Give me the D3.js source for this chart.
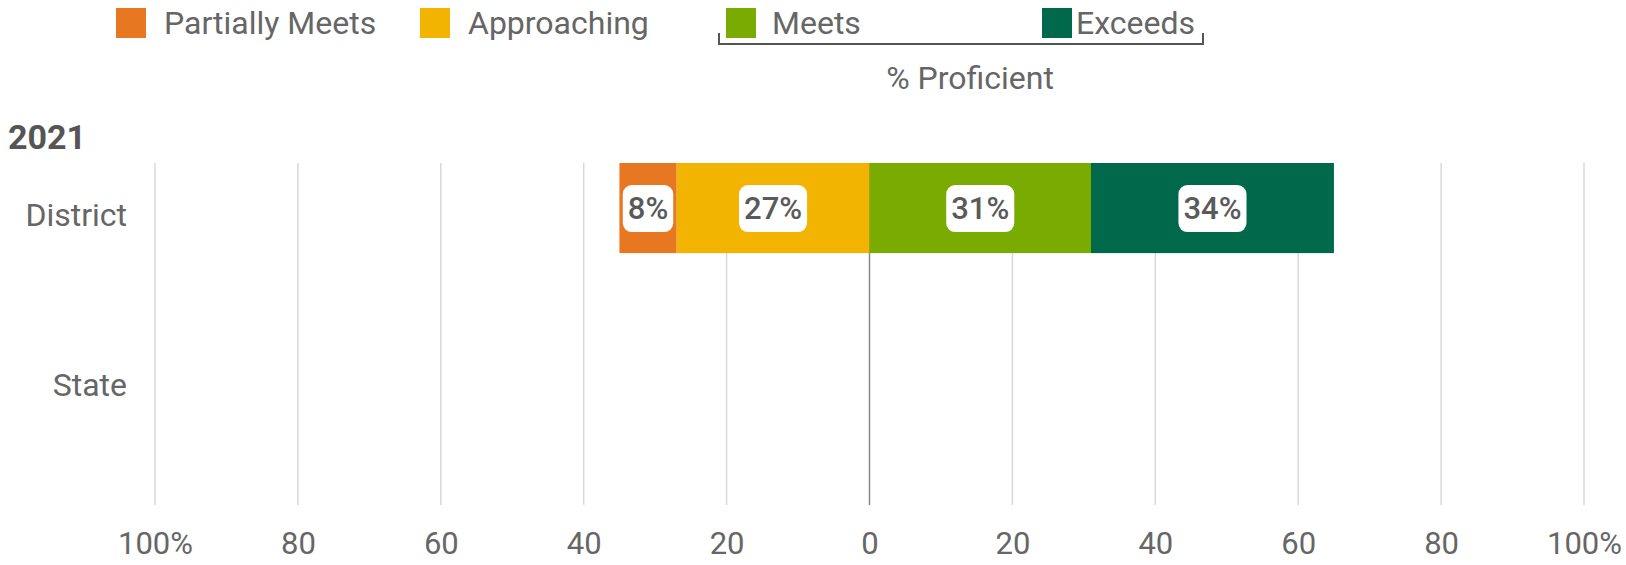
<!DOCTYPE html>
<meta charset="utf-8">
<style>
	body { margin: 0; background: #fff; }
	svg text { font-family: Roboto, "Noto Sans", sans-serif; fill: #666; }
	.grid line { stroke: #d9d9d9; stroke-width: 1.5; }
	.grid line.zero { stroke: #8a8a8a; }
	.lbl { font-weight: 500; fill: #5a5a5a; }
</style>
<script src="https://cdn.jsdelivr.net/npm/d3@7"></script>
<body>
<div id="chart"></div>
<script>
	// data
	let levels = ["Partially Meets", "Approaching", "Meets", "Exceeds"];
	let colors = ["#E87722", "#F2B400", "#7AAB00", "#00694B"];
	let groups = ["District", "State"];
	let districtValues = [8, 27, 31, 34];
	let stateValues = [];
	let tickValues = [-100, -80, -60, -40, -20, 0, 20, 40, 60, 80, 100];
	let year = "2021";

	let width = 1626, height = 565;

	let svg = d3.select("#chart").append("svg")
		.attr("width", width)
		.attr("height", height);

	let x = d3.scaleLinear().domain([-100, 100]).range([155, 1584]);
	let y = d3.scaleBand().domain(groups).range([163, 503]);
	let barH = y.bandwidth() * 0.53;

	// gridlines
	svg.append("g").attr("class", "grid")
		.selectAll("line")
		.data(tickValues)
		.join("line")
		.attr("class", d => d === 0 ? "zero" : null)
		.attr("x1", d => x(d)).attr("x2", d => x(d))
		.attr("y1", 163).attr("y2", 505);

	// diverging segments
	function segments(vals) {
		if (!vals.length) return [];
		let segs = [];
		// negatives go leftwards from 0: Approaching then Partially Meets
		let left = 0;
		[1, 0].forEach(i => {
			segs.push({ i: i, x0: left - vals[i], x1: left, v: vals[i] });
			left -= vals[i];
		});
		let right = 0;
		[2, 3].forEach(i => {
			segs.push({ i: i, x0: right, x1: right + vals[i], v: vals[i] });
			right += vals[i];
		});
		return segs;
	}

	let rows = [
		{ g: "District", segs: segments(districtValues) },
		{ g: "State", segs: segments(stateValues) }
	];

	let row = svg.append("g").selectAll("g")
		.data(rows)
		.join("g")
		.attr("transform", d => `translate(0,${y(d.g)})`);

	row.selectAll("rect.bar")
		.data(d => d.segs)
		.join("rect")
		.attr("class", "bar")
		.attr("x", d => x(d.x0))
		.attr("width", d => x(d.x1) - x(d.x0))
		.attr("y", 0)
		.attr("height", barH)
		.attr("fill", d => colors[d.i]);

	let lab = row.selectAll("g.lab")
		.data(d => d.segs)
		.join("g")
		.attr("class", "lab")
		.attr("transform", d => `translate(${(x(d.x0) + x(d.x1)) / 2},${barH / 2})`);

	lab.append("text")
		.attr("class", "lbl")
		.attr("text-anchor", "middle")
		.attr("dy", "0.36em")
		.style("font-size", "31px")
		.text(d => d.v + "%");

	lab.each(function () {
		let g = d3.select(this);
		let bb = g.select("text").node().getBBox();
		g.insert("rect", "text")
			.attr("x", bb.x - 5)
			.attr("y", -23)
			.attr("width", bb.width + 10)
			.attr("height", 47)
			.attr("rx", 9)
			.attr("fill", "#fff");
	});

	// row labels
	svg.append("g").selectAll("text")
		.data(groups)
		.join("text")
		.attr("x", 127)
		.attr("y", d => y(d) + 52)
		.attr("text-anchor", "end")
		.attr("dy", "0.35em")
		.style("font-size", "32px")
		.text(d => d);

	// year heading
	svg.append("text")
		.attr("x", 8).attr("y", 137)
		.attr("dy", "0.35em")
		.style("font-size", "34px")
		.style("font-weight", "bold")
		.style("fill", "#555")
		.text(year);

	// bottom axis
	let axis = d3.axisBottom(x)
		.tickValues(tickValues)
		.tickSize(0)
		.tickPadding(0)
		.tickFormat(d => Math.abs(d) === 100 ? "100%" : Math.abs(d));

	let ax = svg.append("g")
		.attr("transform", "translate(0,543)")
		.call(axis);
	ax.select(".domain").remove();
	ax.selectAll("text")
		.attr("dy", "0.35em")
		.attr("y", 0)
		.style("font-size", "31px")
		.style("font-family", "Roboto, sans-serif")
		.attr("fill", "#666");

	// legend
	let legendX = [116, 420, 726, 1042];
	let legendTextDx = [48, 48, 46, 34];
	let leg = svg.append("g").selectAll("g")
		.data(levels)
		.join("g")
		.attr("transform", (d, i) => `translate(${legendX[i]},8)`);
	leg.append("rect")
		.attr("width", 30).attr("height", 30)
		.attr("fill", (d, i) => colors[i]);
	leg.append("text")
		.attr("x", (d, i) => legendTextDx[i]).attr("y", 15)
		.attr("dy", "0.35em")
		.style("font-size", "32px")
		.text(d => d);

	// % Proficient bracket
	svg.append("path")
		.attr("d", "M719,33V44H1203V33")
		.attr("fill", "none")
		.attr("stroke", "#555")
		.attr("stroke-width", 2);
	svg.append("text")
		.attr("x", 970).attr("y", 78)
		.attr("text-anchor", "middle")
		.attr("dy", "0.35em")
		.style("font-size", "32px")
		.text("% Proficient");
</script>
</body>
